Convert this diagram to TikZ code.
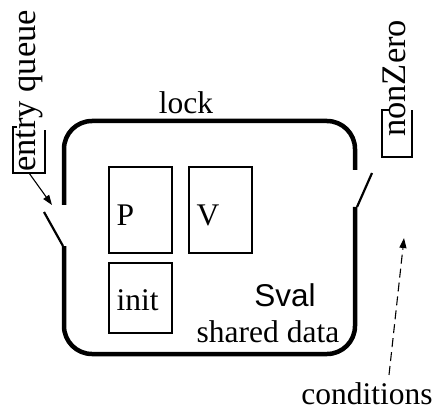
\documentclass[tikz,border=0pt]{standalone}
\usepackage{fontspec}
\setmainfont{Liberation Serif}
\newfontfamily\sansfnt{Liberation Sans}
\usetikzlibrary{arrows.meta}
\tikzset{
  lbl/.style={inner sep=0pt, font=\fontsize{31.5}{38}\selectfont},
  sidelbl/.style={lbl, font=\fontsize{34.5}{40}\selectfont, rotate=90, anchor=base west},
  proc/.style={draw, line width=1.3pt, inner sep=0pt, minimum width=63pt, minimum height=86pt},
  tag/.style={line width=1.1pt},
  wall/.style={line width=4.5pt, rounded corners=28pt},
  gate/.style={line width=2.2pt},
}
\begin{document}
\begin{tikzpicture}[x=1pt,y=-1pt]
\useasboundingbox (0,0) rectangle (435,419);
% the monitor wall, open at both gates
\draw[wall] (64,205) -- (64,121) -- (355,121) -- (355,170);
\draw[wall] (64,246) -- (64,354) -- (355,354) -- (355,207);
\draw[gate] (44,212) -- (63,246);
\draw[gate] (372,173) -- (357,207);
% procedures
\node[proc] (P) at (140.5,210) {};
\node[proc] (V) at (220.5,210) {};
\node[proc, minimum height=70pt] (init) at (140.5,298) {};
\node[lbl, anchor=base west] (Ptext) at (116.5,225.5) {P};
\node[lbl, anchor=base west] (Vtext) at (196.5,225.5) {V};
\node[lbl, anchor=base west] (inittext) at (116.5,310) {init};
% data
\node[lbl, anchor=base] (sval) at (285,306) {\sansfnt Sval};
\node[lbl, anchor=base] (shared) at (268,342) {shared data};
\node[lbl, anchor=base] (lock) at (186,114) {lock};
% queues
\node[sidelbl] (entry) at (35,172) {entry queue};
\draw[tag] (17,127) -- (13,127) -- (13,173) -- (45,173) -- (45,130);
\coordinate (entrybox) at (29,173);
\coordinate (entrygate) at (52,205);
\draw[line width=1.1pt, -{Triangle[length=10pt,width=7pt]}] (entrybox) -- (entrygate);
\node[sidelbl] (nonzero) at (405,137) {nonZero};
\draw[tag] (390,110) -- (382,110) -- (382,157) -- (412,157) -- (412,110);
\node[lbl, anchor=base] (cond) at (367,404) {conditions};
\coordinate (condgate) at (404,238);
\draw[line width=1.1pt, dash pattern=on 9pt off 5pt, -{Triangle[length=10pt,width=7pt]}]
  ([xshift=22pt,yshift=7pt]cond.north) -- (condgate);
\end{tikzpicture}
\end{document}
